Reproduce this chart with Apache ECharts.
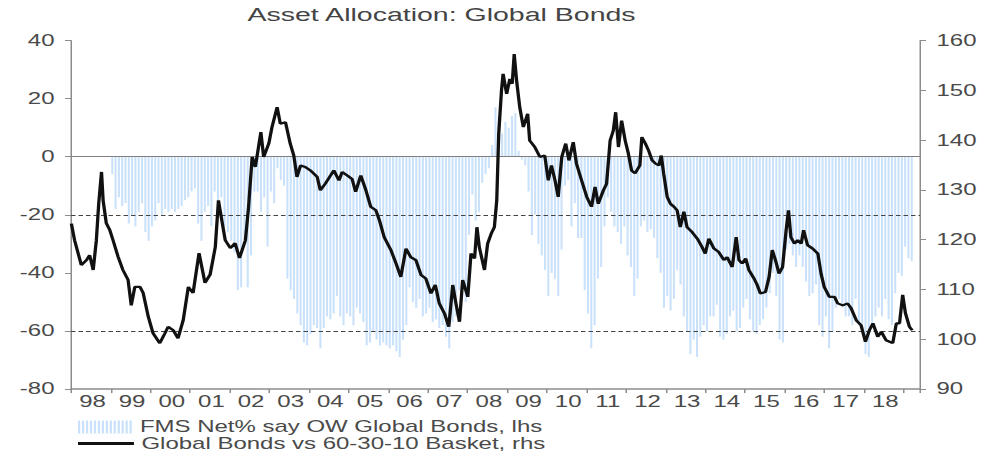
<!DOCTYPE html>
<html><head><meta charset="utf-8">
<script src="https://cdn.jsdelivr.net/npm/echarts/dist/echarts.min.js"></script>
<style>
html,body{margin:0;padding:0;background:#fff;overflow:hidden;}
#wrap{width:987px;height:454px;overflow:hidden;position:relative;background:#fff;}
#chart{width:658px;height:454px;transform:scaleX(1.5);transform-origin:0 0;}
</style></head><body>
<div id="wrap"><div id="chart"></div></div>
<script>
// ---------- data ----------
const chartTitle = 'Asset Allocation: Global Bonds';
const barName = 'FMS Net% say OW Global Bonds, lhs';
const lineName = 'Global Bonds vs 60-30-10 Basket, rhs';
const axisStart = '1998-01';
const axisMonths = 257;
const barStart = '1999-01';
const barValues = [
  -6, -18, -14, -17, -16, -23, -20, -24, -19, -16, -26, -29,
  -24, -22, -16, -20, -18, -19, -18, -19, -18, -17, -15, -14,
  -12, -11, -23, -29, -19, -17, -24, -12, -15, -14, -24, -26,
  -29, -33, -46, -45, -29, -45, -34, -12, -12, -19, -14, -31,
  -12, -16, -4, -8, -10, -42, -46, -49, -54, -58, -64, -65,
  -61, -58, -59, -66, -59, -55, -56, -54, -48, -55, -58, -54,
  -55, -58, -52, -54, -57, -65, -64, -60, -63, -65, -64, -65,
  -66, -65, -67, -69, -63, -58, -45, -50, -52, -49, -55, -54,
  -52, -57, -56, -59, -58, -62, -66, -57, -55, -46, -44, -50,
  -27, -13, -22, -19, -9, -6, -4, 4, 17, 14, 8, 12,
  10, 14, 15, 2, -1, -3, -12, -27, -20, -30, -34, -39,
  -48, -40, -42, -48, -32, -10, -8, -24, -16, -28, -28, -46,
  -54, -66, -58, -42, -38, -24, -14, -19, -24, -26, -30, -24,
  -34, -38, -48, -42, -24, -22, -26, -25, -28, -35, -40, -52,
  -48, -53, -49, -39, -44, -55, -60, -68, -63, -69, -62, -58,
  -60, -55, -55, -51, -62, -63, -61, -55, -53, -60, -59, -52,
  -49, -56, -60, -61, -58, -56, -52, -47, -40, -48, -63, -64,
  -32, -30, -34, -38, -34, -38, -43, -48, -47, -44, -58, -62,
  -55, -66, -60, -52, -49, -52, -55, -55, -58, -49, -58, -60,
  -68, -69, -58, -55, -52, -55, -49, -56, -58, -47, -40, -41,
  -31, -35, -36
];
// decimal years
const lineDates = [
  1998.01,1998.09,1998.26,1998.39,1998.47,1998.56,1998.64,1998.70,1998.77,1998.81,1998.89,1998.98,
  1999.06,1999.19,1999.31,1999.44,1999.52,1999.61,1999.74,1999.82,1999.95,
  2000.07,2000.24,2000.37,2000.45,2000.58,2000.70,2000.83,2000.96,
  2001.08,2001.23,2001.38,2001.51,2001.64,2001.72,2001.81,2001.89,
  2002.02,2002.14,2002.25,2002.40,2002.48,2002.57,2002.65,2002.73,2002.79,2002.86,2002.99,
  2003.07,2003.20,2003.28,2003.41,2003.53,2003.62,2003.70,2003.79,2003.91,
  2004.04,2004.21,2004.29,2004.42,2004.63,2004.76,2004.84,2004.97,
  2005.09,2005.18,2005.31,2005.44,2005.56,2005.69,2005.78,2005.90,
  2006.07,2006.20,2006.32,2006.45,2006.57,2006.70,2006.83,2006.95,
  2007.08,2007.19,2007.29,2007.42,2007.53,2007.63,2007.71,2007.80,2007.88,
  2008.01,2008.09,2008.18,2008.24,2008.30,2008.43,2008.51,2008.60,2008.68,2008.74,2008.79,2008.86,2008.90,2008.99,
  2009.07,2009.13,2009.18,2009.24,2009.32,2009.41,2009.52,2009.57,2009.70,2009.83,2009.95,
  2010.04,2010.12,2010.21,2010.29,2010.38,2010.48,2010.56,2010.67,2010.75,2010.88,
  2011.01,2011.13,2011.22,2011.30,2011.43,2011.51,2011.60,2011.68,2011.74,2011.81,2011.89,2011.98,
  2012.06,2012.14,2012.23,2012.35,2012.40,2012.49,2012.57,2012.66,2012.74,2012.83,2012.89,2012.95,
  2013.04,2013.12,2013.21,2013.29,2013.37,2013.46,2013.54,2013.67,2013.80,2013.92,
  2014.00,2014.09,2014.22,2014.34,2014.47,2014.55,2014.68,2014.78,2014.85,2014.93,
  2015.02,2015.10,2015.23,2015.31,2015.39,2015.52,2015.61,2015.69,2015.77,2015.86,2015.95,
  2016.04,2016.10,2016.16,2016.25,2016.33,2016.42,2016.48,2016.58,2016.71,2016.84,2016.92,
  2017.00,2017.13,2017.26,2017.34,2017.47,2017.59,2017.68,2017.81,2017.93,
  2018.04,2018.14,2018.23,2018.35,2018.44,2018.56,2018.73,2018.82,2018.90,2018.98,
  2019.05,2019.15,2019.22
];
const lineValues = [
  123.2,119.9,114.9,115.9,116.9,113.9,119.9,127.3,133.6,127.9,123.3,121.9,
  119.9,116.5,113.9,111.9,106.8,110.5,110.5,109.3,104.5,
  101.2,99.2,101.2,102.5,101.8,100.2,103.8,110.5,
  109.3,117.3,111.3,113.0,118.5,127.9,123.6,119.9,
  118.3,119.3,116.3,119.9,126.6,136.6,134.6,138.6,141.6,136.6,139.3,
  142.6,146.6,143.3,143.6,139.3,136.9,132.6,134.9,134.6,
  133.9,132.6,129.9,131.3,133.9,131.9,133.6,132.9,
  132.2,129.6,132.9,129.9,126.6,125.9,123.9,120.5,
  117.9,115.2,112.5,118.2,116.5,115.9,112.9,112.2,
  109.2,110.9,107.2,105.2,102.5,110.9,107.2,103.5,111.9,
  108.5,117.2,116.2,122.5,118.5,113.9,119.2,121.2,122.5,127.9,141.3,150.0,153.3,149.3,
  152.3,151.3,157.3,152.0,146.6,142.6,145.3,139.9,138.6,136.6,136.9,
  131.9,134.9,131.9,128.6,136.6,139.3,135.9,139.6,135.3,131.9,
  128.6,126.6,130.6,127.2,129.9,131.2,139.9,141.9,145.6,138.6,143.9,139.9,
  137.3,133.9,133.3,134.9,140.6,139.3,137.9,135.9,135.3,134.9,136.9,133.3,
  128.6,127.2,126.6,125.9,122.5,125.6,122.5,121.5,120.2,118.5,
  117.2,120.2,118.2,117.5,115.9,116.5,114.5,120.5,115.9,115.2,
  116.2,113.9,112.2,110.9,109.2,109.5,112.5,117.9,115.9,113.2,114.5,
  121.9,125.9,120.5,119.2,119.9,119.2,121.9,118.9,118.2,117.2,113.2,
  110.5,108.5,108.5,107.2,106.8,107.2,106.2,103.8,102.8,
  99.5,101.8,103.2,100.5,101.5,99.8,99.2,103.2,103.2,108.9,
  105.2,102.5,101.8
];
const refLines = [0, -20, -60];
const leftMin = -80, leftMax = 40, leftStep = 20;
const rightMin = 90, rightMax = 160, rightStep = 10;

// ---------- build ----------
const FONT = "'Liberation Sans', Arial, Helvetica, sans-serif";
const TXT = '#4a4a4a';
const AX = '#8c8c8c';

const [sy, sm] = axisStart.split('-').map(Number);
const categories = [];
for (let i = 0; i < axisMonths; i++) {
  const y = sy + Math.floor((sm - 1 + i) / 12);
  const m = (sm - 1 + i) % 12 + 1;
  categories.push(y + '-' + String(m).padStart(2, '0'));
}
const barOffset = categories.indexOf(barStart);
const barData = categories.map((c, i) => {
  const k = i - barOffset;
  return (k >= 0 && k < barValues.length) ? barValues[k] : '-';
});
const lineData = lineDates.map((t, i) => [(t - sy) * 12 - (sm - 1), lineValues[i]]);

let stripeIcon = 'path://';
for (let i = 0; i < 14; i++) { const x = (i * 26.4).toFixed(1); stripeIcon += 'M' + x + ',0h15v130h-15z'; }

const chart = echarts.init(document.getElementById('chart'), null, {renderer: 'svg'});
const labelStyle = {fontFamily: FONT, fontSize: 16, color: TXT};
const legendText = {fontFamily: FONT, fontSize: 16, color: TXT, lineHeight: 15};
chart.setOption({
  animation: false,
  backgroundColor: '#fff',
  title: {text: chartTitle, left: 165, top: 5, padding: 0,
    textStyle: {fontFamily: FONT, fontSize: 19, fontWeight: 'normal', color: '#444'}},
  legend: [
    {data: [{name: barName, icon: stripeIcon}], left: 52, top: 419, orient: 'vertical',
     itemWidth: 36.7, itemHeight: 13, padding: 0, selectedMode: false, textStyle: legendText},
    {data: [{name: lineName, icon: 'rect'}], left: 52, top: 435.5, orient: 'vertical',
     itemWidth: 37.3, itemHeight: 3, padding: 0, selectedMode: false, textStyle: legendText}
  ],
  grid: {left: 47.33, right: 44.67, top: 40.5, bottom: 65, containLabel: false, outerBoundsMode: 'none'},
  xAxis: [
    {type: 'category', data: categories, boundaryGap: true,
     axisLine: {show: true, onZero: false, lineStyle: {color: AX, width: 1.5}},
     axisTick: {show: true, interval: (i) => i % 12 === 0, length: 4, lineStyle: {color: AX}},
     axisLabel: Object.assign({interval: (i) => i % 12 === 6, formatter: (v) => v.slice(2, 4), margin: 5}, labelStyle),
     splitLine: {show: false}},
    {type: 'value', min: 0, max: axisMonths, show: false}
  ],
  yAxis: [
    {type: 'value', position: 'left', min: leftMin, max: leftMax, interval: leftStep,
     axisLine: {show: true, onZero: false, lineStyle: {color: AX}},
     axisTick: {show: true, inside: false, length: 4, lineStyle: {color: AX}},
     axisLabel: Object.assign({margin: 11, showMinLabel: true, showMaxLabel: true}, labelStyle),
     splitLine: {show: false}},
    {type: 'value', position: 'right', min: rightMin, max: rightMax, interval: rightStep,
     axisLine: {show: true, onZero: false, lineStyle: {color: AX}},
     axisTick: {show: true, inside: false, length: 4, lineStyle: {color: AX}},
     axisLabel: Object.assign({margin: 11, showMinLabel: true, showMaxLabel: true}, labelStyle),
     splitLine: {show: false}}
  ],
  series: [
    {type: 'bar', name: barName, data: barData, xAxisIndex: 0, yAxisIndex: 0,
     barWidth: '62%', itemStyle: {color: '#c9e1fa'}, emphasis: {disabled: true},
     markLine: {silent: true, symbol: ['none', 'none'], label: {show: false}, animation: false,
       data: refLines.map(v => ({yAxis: v,
         lineStyle: v === 0 ? {color: '#808080', type: 'solid', width: 1} : {color: '#444', type: [3, 2], width: 1}}))}},
    {type: 'line', name: lineName, data: lineData, xAxisIndex: 1, yAxisIndex: 1,
     symbol: 'none', showSymbol: false, z: 5,
     lineStyle: {color: '#111', width: 2.2}, itemStyle: {color: '#111'}, emphasis: {disabled: true}}
  ]
});
</script>
</body></html>
